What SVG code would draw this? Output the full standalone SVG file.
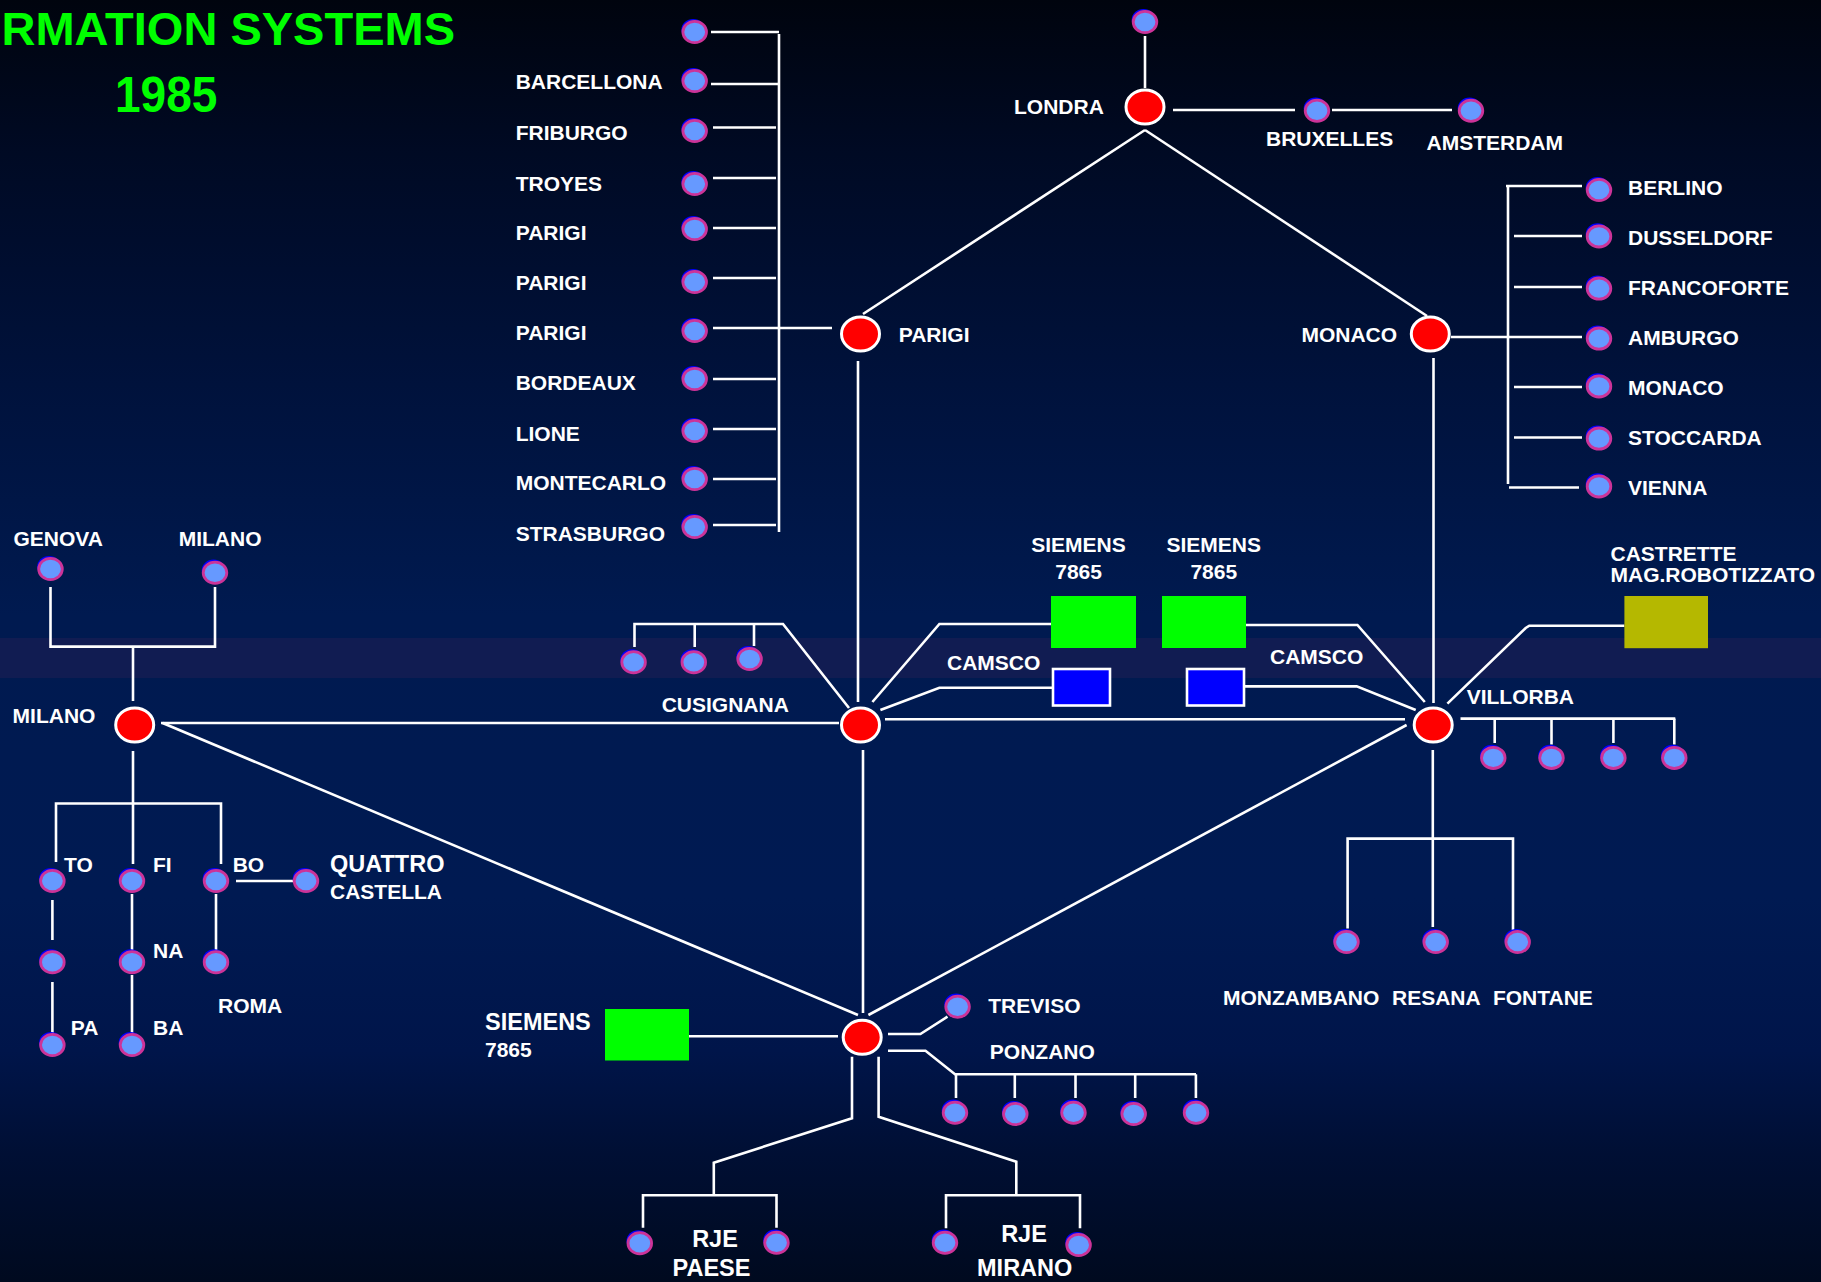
<svg xmlns="http://www.w3.org/2000/svg" xmlns:xlink="http://www.w3.org/1999/xlink" width="1821" height="1282" viewBox="0 0 1821 1282">
<defs>
<linearGradient id="bg" x1="0" y1="0" x2="0" y2="1">
<stop offset="0" stop-color="#00040e"/>
<stop offset="0.12" stop-color="#000a24"/>
<stop offset="0.3" stop-color="#00123c"/>
<stop offset="0.48" stop-color="#001a50"/>
<stop offset="0.7" stop-color="#001a52"/>
<stop offset="0.82" stop-color="#00154a"/>
<stop offset="0.9" stop-color="#000f34"/>
<stop offset="1" stop-color="#000a1f"/>
</linearGradient>
<g id="sn">
<ellipse cx="-1.5" cy="-2.5" rx="11.8" ry="10.6" fill="#0000ff"/>
<ellipse cx="0" cy="0" rx="11.8" ry="10.6" fill="#6699ff" stroke="#cc3399" stroke-width="2.8"/>
</g>
<g id="rn">
<ellipse cx="0" cy="0" rx="19" ry="17" fill="#ff0000" stroke="#ffffff" stroke-width="3"/>
</g>
</defs>
<style>
.t{font-family:"Liberation Sans",Arial,sans-serif;font-weight:bold;font-size:21px;fill:#ffffff}
.big{font-size:23.5px}
.mid{text-anchor:middle}
.title{font-family:"Liberation Sans",Arial,sans-serif;font-weight:bold;fill:#00ff00}
.ln{fill:none;stroke:#ffffff;stroke-width:2.6}
</style>
<rect x="0" y="0" width="1821" height="1282" fill="url(#bg)"/>
<rect x="0" y="638" width="1821" height="40" fill="#111c52"/>

<g id="title">
<text class="title" x="455" y="45" font-size="47" text-anchor="end">RMATION SYSTEMS</text>
<text class="title" transform="translate(115,112) scale(1,1.08)" font-size="46">1985</text>
</g>

<g id="connectors" class="ln">
<path d="M1145,36 V88"/>
<path d="M1173,110 H1295"/>
<path d="M1332,110 H1452"/>
<path d="M1145,130 L863,314"/>
<path d="M1145,130 L1427,316"/>
<path d="M779,34 V532"/>
<path d="M711,32 H779"/>
<path d="M711,84 H779"/>
<path d="M713,127.5 H776"/>
<path d="M713,178 H776"/>
<path d="M713,228 H776"/>
<path d="M713,278 H776"/>
<path d="M713,328 H832"/>
<path d="M713,379 H776"/>
<path d="M713,429 H776"/>
<path d="M713,479 H776"/>
<path d="M713,525 H776"/>
<path d="M858,361 V702"/>
<path d="M1508,186 V484"/>
<path d="M1506,186 H1582"/>
<path d="M1514,236 H1582"/>
<path d="M1514,287 H1582"/>
<path d="M1451,337 H1582"/>
<path d="M1514,387 H1582"/>
<path d="M1514,437.5 H1582"/>
<path d="M1509,487.5 H1579"/>
<path d="M1433.5,358 V703"/>
<path d="M50.5,587 V646.6 H215 V587"/>
<path d="M133,646.6 V701"/>
<path d="M133,751 V864"/>
<path d="M56,862 V803.5 H221 V864"/>
<path d="M236,881 H293"/>
<path d="M52.4,900 V940"/>
<path d="M52.4,982 V1033"/>
<path d="M132,894 V951"/>
<path d="M132,975 V1033"/>
<path d="M216,894 V950"/>
<path d="M161,723 H839"/>
<path d="M162.6,723 L858,1015"/>
<path d="M634.5,647 V624 H783 L849,708"/>
<path d="M694.7,624 V647"/>
<path d="M754,624 V646"/>
<path d="M863,750 V1013"/>
<path d="M885,719.3 H1405"/>
<path d="M872.4,702 L939.4,624 H1051"/>
<path d="M880.4,710 L939.4,687.7 H1052"/>
<path d="M1246,625 H1357.4 L1424.8,702"/>
<path d="M1244,686.4 H1356.7 L1415.7,710"/>
<path d="M1447.4,703.6 L1525.7,628 L1529.3,625.7 H1624.4"/>
<path d="M1460.5,718.6 H1675.3"/>
<path d="M1494.7,718.6 V743"/>
<path d="M1551.5,718.6 V744.5"/>
<path d="M1613.4,718.6 V743"/>
<path d="M1674.3,718.6 V744.5"/>
<path d="M1432.8,750 V927"/>
<path d="M1347.6,928.6 V838.6 H1513 V930.4"/>
<path d="M1406.6,725 L868.4,1015"/>
<path d="M689,1036.3 H838"/>
<path d="M888,1034 H920.4 L947.5,1016.7"/>
<path d="M888,1050.7 H925.5 L955,1074.3 H1196"/>
<path d="M956,1074.3 V1098"/>
<path d="M1014.8,1074.3 V1098"/>
<path d="M1075.5,1074.3 V1098"/>
<path d="M1135.2,1074.3 V1098"/>
<path d="M1195.9,1074.3 V1098"/>
<path d="M852,1056.7 V1118.3 L713.8,1162.7 V1195.3"/>
<path d="M643,1227.7 V1195.3 H776.5 V1227.7"/>
<path d="M878.6,1056.7 V1116.7 L1016.3,1161.7 V1195.3"/>
<path d="M946,1228.3 V1195.3 H1080 V1228.3"/>
</g>

<g id="node-londra"><use href="#rn" x="1145" y="107"/><text class="t" x="1014" y="114">LONDRA</text></g>
<g id="node-londra-top"><use href="#sn" x="1145" y="22"/></g>
<g id="node-bruxelles"><use href="#sn" x="1317" y="110.7"/><text class="t" x="1266" y="146">BRUXELLES</text></g>
<g id="node-amsterdam"><use href="#sn" x="1471" y="110.7"/><text class="t" x="1426.5" y="150">AMSTERDAM</text></g>

<g id="node-parigi"><use href="#rn" x="860.5" y="334"/><text class="t" x="898.7" y="342">PARIGI</text></g>
<g id="node-monaco"><use href="#rn" x="1430.3" y="334"/><text class="t" x="1301.4" y="342">MONACO</text></g>

<g id="node-p0"><use href="#sn" x="694.7" y="32"/></g>
<g id="node-barcellona"><use href="#sn" x="694.7" y="81"/><text class="t" x="515.7" y="89">BARCELLONA</text></g>
<g id="node-friburgo"><use href="#sn" x="694.7" y="131"/><text class="t" x="515.7" y="140">FRIBURGO</text></g>
<g id="node-troyes"><use href="#sn" x="694.7" y="184"/><text class="t" x="515.7" y="191">TROYES</text></g>
<g id="node-parigi1"><use href="#sn" x="694.7" y="229"/><text class="t" x="515.7" y="240">PARIGI</text></g>
<g id="node-parigi2"><use href="#sn" x="694.7" y="282"/><text class="t" x="515.7" y="290">PARIGI</text></g>
<g id="node-parigi3"><use href="#sn" x="694.7" y="331"/><text class="t" x="515.7" y="340">PARIGI</text></g>
<g id="node-bordeaux"><use href="#sn" x="694.7" y="379"/><text class="t" x="515.7" y="390">BORDEAUX</text></g>
<g id="node-lione"><use href="#sn" x="694.7" y="431"/><text class="t" x="515.7" y="441">LIONE</text></g>
<g id="node-montecarlo"><use href="#sn" x="694.7" y="479"/><text class="t" x="515.7" y="490">MONTECARLO</text></g>
<g id="node-strasburgo"><use href="#sn" x="694.7" y="527"/><text class="t" x="515.7" y="541">STRASBURGO</text></g>

<g id="node-berlino"><use href="#sn" x="1599" y="190"/><text class="t" x="1628" y="194.6">BERLINO</text></g>
<g id="node-dusseldorf"><use href="#sn" x="1599" y="236.4"/><text class="t" x="1628" y="244.6">DUSSELDORF</text></g>
<g id="node-francoforte"><use href="#sn" x="1599" y="288.6"/><text class="t" x="1628" y="295">FRANCOFORTE</text></g>
<g id="node-amburgo"><use href="#sn" x="1599" y="338.6"/><text class="t" x="1628" y="345">AMBURGO</text></g>
<g id="node-monaco2"><use href="#sn" x="1599" y="386.4"/><text class="t" x="1628" y="394.6">MONACO</text></g>
<g id="node-stoccarda"><use href="#sn" x="1599" y="438.6"/><text class="t" x="1628" y="445">STOCCARDA</text></g>
<g id="node-vienna"><use href="#sn" x="1599" y="486.4"/><text class="t" x="1628" y="494.6">VIENNA</text></g>

<g id="node-milano"><use href="#rn" x="134.7" y="725"/><text class="t" x="12.6" y="722.7">MILANO</text></g>
<g id="node-genova"><use href="#sn" x="50.5" y="569"/><text class="t" x="13.4" y="546">GENOVA</text></g>
<g id="node-milano2"><use href="#sn" x="215" y="572.7"/><text class="t" x="178.7" y="546">MILANO</text></g>
<g id="node-to"><use href="#sn" x="52.4" y="881"/><text class="t" x="64" y="872">TO</text></g>
<g id="node-fi"><use href="#sn" x="132" y="881"/><text class="t" x="153" y="872">FI</text></g>
<g id="node-bo"><use href="#sn" x="216" y="881"/><text class="t" x="232.7" y="872">BO</text></g>
<g id="node-quattro"><use href="#sn" x="306" y="881"/><text class="t big" x="330" y="872">QUATTRO</text><text class="t" x="330" y="898.8">CASTELLA</text></g>
<g id="node-to2"><use href="#sn" x="52.4" y="962.3"/></g>
<g id="node-na"><use href="#sn" x="132" y="962.3"/><text class="t" x="153" y="958">NA</text></g>
<g id="node-roma"><use href="#sn" x="216" y="962.3"/><text class="t" x="218" y="1012.8">ROMA</text></g>
<g id="node-pa"><use href="#sn" x="52.4" y="1045"/><text class="t" x="70.8" y="1034.6">PA</text></g>
<g id="node-ba"><use href="#sn" x="132" y="1045"/><text class="t" x="153" y="1034.6">BA</text></g>

<g id="node-cusignana"><use href="#rn" x="860.5" y="725"/><text class="t" x="661.7" y="711.7">CUSIGNANA</text></g>
<g id="node-cus1"><use href="#sn" x="633.6" y="662.3"/></g>
<g id="node-cus2"><use href="#sn" x="693.8" y="662.3"/></g>
<g id="node-cus3"><use href="#sn" x="749.6" y="659"/></g>

<g id="node-siemens1"><rect x="1051" y="596" width="85" height="52" fill="#00ff00"/><text class="t mid" x="1078.5" y="551.7" font-size="21.5">SIEMENS</text><text class="t mid" x="1078.6" y="579">7865</text></g>
<g id="node-siemens2"><rect x="1162" y="596" width="84" height="52" fill="#00ff00"/><text class="t mid" x="1213.7" y="551.7" font-size="21.5">SIEMENS</text><text class="t mid" x="1213.8" y="579">7865</text></g>
<g id="node-camsco1"><rect x="1053" y="669" width="57" height="36.5" fill="#0000ff" stroke="#ffffff" stroke-width="2.6"/><text class="t" x="947" y="670">CAMSCO</text></g>
<g id="node-camsco2"><rect x="1187" y="669" width="57" height="36.5" fill="#0000ff" stroke="#ffffff" stroke-width="2.6"/><text class="t" x="1270" y="664.3">CAMSCO</text></g>

<g id="node-villorba"><use href="#rn" x="1433.2" y="725"/><text class="t" x="1466.7" y="704.3">VILLORBA</text></g>
<g id="node-castrette"><rect x="1624.4" y="596" width="83.6" height="52.2" fill="#b5b800"/><text class="t" x="1610.5" y="560.7">CASTRETTE</text><text class="t" x="1610.5" y="582">MAG.ROBOTIZZATO</text></g>
<g id="node-v1"><use href="#sn" x="1493.3" y="757.9"/></g>
<g id="node-v2"><use href="#sn" x="1551.5" y="757.9"/></g>
<g id="node-v3"><use href="#sn" x="1613.4" y="757.9"/></g>
<g id="node-v4"><use href="#sn" x="1674.3" y="757.9"/></g>
<g id="node-monzambano"><use href="#sn" x="1346.5" y="942"/><text class="t" x="1223" y="1004.5">MONZAMBANO</text></g>
<g id="node-resana"><use href="#sn" x="1435.7" y="942"/><text class="t" x="1392" y="1004.5">RESANA</text></g>
<g id="node-fontane"><use href="#sn" x="1517.7" y="942"/><text class="t" x="1492.9" y="1004.5">FONTANE</text></g>

<g id="node-treviso-hub"><use href="#rn" x="862.2" y="1037.3"/></g>
<g id="node-siemens3"><rect x="605" y="1009" width="84" height="51.5" fill="#00ff00"/><text class="t big" x="485" y="1030">SIEMENS</text><text class="t" x="485" y="1057" font-size="20.5">7865</text></g>
<g id="node-treviso"><use href="#sn" x="957.6" y="1006.7"/><text class="t" x="988.3" y="1012.7">TREVISO</text></g>
<g id="node-ponzano"><text class="t" x="989.8" y="1059">PONZANO</text>
<use href="#sn" x="955" y="1112.7"/><use href="#sn" x="1015.3" y="1114"/><use href="#sn" x="1073.5" y="1112.7"/><use href="#sn" x="1133.7" y="1114"/><use href="#sn" x="1196" y="1112.7"/></g>
<g id="node-rje-paese"><use href="#sn" x="639.8" y="1243.3"/><use href="#sn" x="776.5" y="1242.7"/><text class="t big mid" x="715" y="1247.3">RJE</text><text class="t big mid" x="711.5" y="1276">PAESE</text></g>
<g id="node-rje-mirano"><use href="#sn" x="945" y="1242.7"/><use href="#sn" x="1078.6" y="1245"/><text class="t big mid" x="1024" y="1241.7">RJE</text><text class="t big mid" x="1024.7" y="1276">MIRANO</text></g>
</svg>
